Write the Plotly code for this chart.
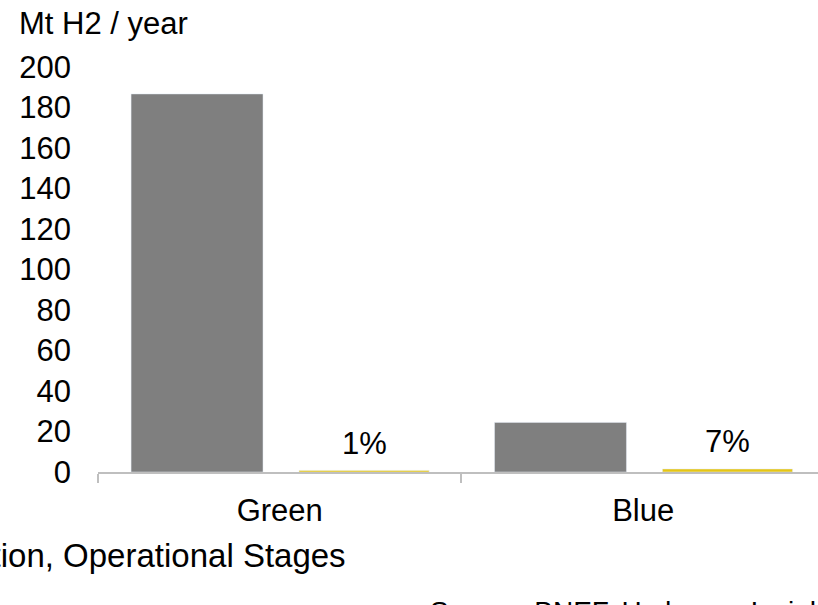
import plotly.graph_objects as go

categories = ["Green", "Blue"]
grey_values = [186.7, 24.5]
yellow_values = [0.8, 1.5]
pct_labels = ["1%", "7%"]
y_ticks = list(range(0, 201, 20))

FONT = "Liberation Sans, Arial, sans-serif"
GREY = "#7f7f7f"
YELLOW = "#E6C614"
AXIS = "#bfbfbf"

fig = go.Figure()
fig.add_trace(go.Bar(x=categories, y=grey_values, marker_color=GREY,
                     offset=-0.409, width=0.363, showlegend=False, hoverinfo="skip"))
fig.add_trace(go.Bar(x=categories, y=yellow_values, marker_color=YELLOW,
                     offset=0.053, width=0.358, showlegend=False, hoverinfo="skip"))

for i, (v, t) in enumerate(zip(yellow_values, pct_labels)):
    fig.add_annotation(x=i + 0.232, y=v, text=t, showarrow=False,
                       yanchor="middle", yshift=27,
                       font=dict(family=FONT, size=31, color="black"))

fig.add_annotation(xref="paper", yref="paper", x=-0.1125, y=1.107,
                   xanchor="left", yanchor="middle", text="Mt H2 / year",
                   showarrow=False, font=dict(family=FONT, size=31, color="black"))
fig.add_annotation(xref="paper", yref="paper", x=0.347, y=-0.207,
                   xanchor="right", yanchor="middle", text="Production, Operational Stages",
                   showarrow=False, font=dict(family=FONT, size=33, color="black"))
fig.add_annotation(xref="paper", yref="paper", x=0.459, y=-0.344,
                   xanchor="left", yanchor="middle",
                   text="Source: BNEF, Hydrogen Insights, Accenture analysis",
                   showarrow=False, font=dict(family=FONT, size=28, color="black"))

fig.update_layout(
    width=818, height=605,
    margin=dict(l=98, r=0, t=67, b=133),
    paper_bgcolor="white", plot_bgcolor="white",
    font=dict(family=FONT, size=31, color="black"),
    barmode="overlay",
    xaxis=dict(type="category", range=[-0.5, 1.481], showgrid=False,
               showline=True, linecolor=AXIS, linewidth=2,
               ticks="outside", tickson="boundaries", ticklen=9,
               tickcolor=AXIS, tickwidth=2, ticklabelstandoff=10,
               tickfont=dict(family=FONT, size=31, color="black")),
    yaxis=dict(range=[0, 200], tickvals=y_ticks, showgrid=False,
               zeroline=False, showline=False, ticks="",
               ticklabelstandoff=26,
               tickfont=dict(family=FONT, size=31, color="black")),
)

fig.write_html("out.html")
